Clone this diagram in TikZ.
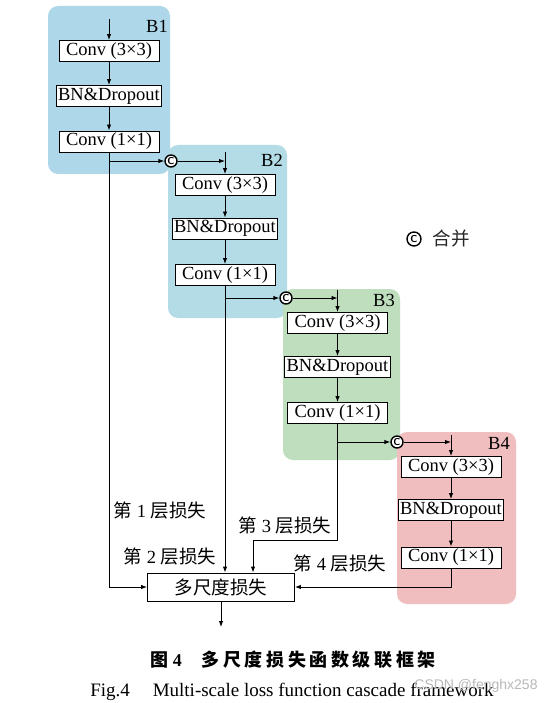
\documentclass[tikz,border=0pt]{standalone}
\usepackage{fontspec}
\setmainfont{Liberation Serif}
\newfontfamily\cjk{Noto Sans CJK SC}
\newfontfamily\cjkcap{Noto Sans CJK SC}[LetterSpace=20]
\newfontfamily\wmfont{Liberation Sans}
\usetikzlibrary{arrows.meta, calc}

\definecolor{panelblue}{RGB}{174,216,234}
\definecolor{panelcyan}{RGB}{180,220,230}
\definecolor{panelgreen}{RGB}{190,222,190}
\definecolor{panelpink}{RGB}{241,190,192}

\newcommand{\lossname}[1]{{\cjk 第}~#1~{\cjk 层损失}}

\begin{document}
\begin{tikzpicture}[x=1pt, y=-1pt, line width=0.9pt, >={Latex[length=6pt,width=4.5pt]},
  txt/.style={font=\fontsize{18.5}{20}\selectfont},
  layer/.style={txt, draw, fill=white, minimum width=100pt, minimum height=21pt, inner sep=2pt},
  panel/.style={rounded corners=10pt},
  merge/.style={circle, draw, line width=1.4pt, fill=white, inner sep=0pt, minimum size=12pt,
    font=\fontsize{10}{10}\sffamily\bfseries}]
  \fill[white] (0,0) rectangle (554,703);
  \useasboundingbox (0,0) rectangle (554,703);

  % coloured panels
  \fill[panelblue, panel] (48,6) rectangle (170,174);
  \fill[panelcyan, panel] (168,145) rectangle (287,318);
  \fill[panelgreen, panel] (283,289) rectangle (400,460);
  \fill[panelpink, panel] (397,432) rectangle (516,604);

  % B1
  \coordinate (in1) at (109,19);
  \node[layer] (c1a) at (109,51) {Conv (3×3)};
  \node[layer] (bn1) at (109,96) {BN\&Dropout};
  \node[layer] (c1b) at (109,141.5) {Conv (1×1)};
  \node[txt] (t1) at (157,26) {B1};
  \draw[->] (in1) -- (c1a);
  \draw[->] (c1a) -- (bn1);
  \draw[->] (bn1) -- (c1b);

  % B2
  \coordinate (in2) at (225,152);
  \node[layer] (c2a) at (225,185) {Conv (3×3)};
  \node[layer] (bn2) at (225,228.5) {BN\&Dropout};
  \node[layer] (c2b) at (225,275) {Conv (1×1)};
  \node[txt] (t2) at (272,160) {B2};
  \draw[->] (in2) -- (c2a);
  \draw[->] (c2a) -- (bn2);
  \draw[->] (bn2) -- (c2b);

  % B3
  \coordinate (in3) at (337.5,290);
  \node[layer] (c3a) at (337.5,323) {Conv (3×3)};
  \node[layer] (bn3) at (337.5,367) {BN\&Dropout};
  \node[layer] (c3b) at (337.5,413) {Conv (1×1)};
  \node[txt] (t3) at (384,300) {B3};
  \draw[->] (in3) -- (c3a);
  \draw[->] (c3a) -- (bn3);
  \draw[->] (bn3) -- (c3b);

  % B4
  \coordinate (in4) at (451,435);
  \node[layer] (c4a) at (451,467) {Conv (3×3)};
  \node[layer] (bn4) at (451,510) {BN\&Dropout};
  \node[layer] (c4b) at (451,557.5) {Conv (1×1)};
  \node[txt] (t4) at (499,443) {B4};
  \draw[->] (in4) -- (c4a);
  \draw[->] (c4a) -- (bn4);
  \draw[->] (bn4) -- (c4b);

  % concatenation
  \node[merge] (m1) at (171,161) {C};
  \node[merge] (m2) at (286,298) {C};
  \node[merge] (m3) at (397,442) {C};
  \draw[->] (c1b.south |- m1) -- (m1);
  \draw[->] (m1) -- (m1 -| in2);
  \draw[->] (c2b.south |- m2) -- (m2);
  \draw[->] (m2) -- (m2 -| in3);
  \draw[->] (c3b.south |- m3) -- (m3);
  \draw[->] (m3) -- (m3 -| in4);

  % losses
  \node[draw, fill=white, minimum width=147pt, minimum height=28pt,
    font=\cjk\fontsize{18.5}{20}\selectfont] (loss) at (221,587) {多尺度损失};
  \coordinate (k3) at (253,540);
  \coordinate (out) at (221,627);
  \draw[->] (c1b) |- (loss);
  \draw[->] (c2b) -- (c2b |- loss.north);
  \draw[->] (c3b) |- (k3) -- (k3 |- loss.north);
  \draw[->] (c4b) |- (loss);
  \draw[->] (loss) -- (out);
  \node[txt] (l1) at (160,511) {\lossname{1}};
  \node[txt] (l2) at (170,557) {\lossname{2}};
  \node[txt] (l3) at (285,526) {\lossname{3}};
  \node[txt] (l4) at (340,564) {\lossname{4}};

  % legend
  \node[merge, minimum size=14pt] (key) at (414,239) {C};
  \node[txt, anchor=west, text=black!85] (keytxt) at (429,239) {\cjk 合并};

  % caption
  \node[font=\fontsize{18}{20}\selectfont\bfseries] (cap) at (293,660)
    {{\cjk 图}~4\hspace{1.1em}{\cjkcap 多尺度损失函数级联框架}};
  \node[font=\fontsize{19}{20}\selectfont] (capen) at (292,692)
    {Fig.4\hspace{1.2em}Multi-scale loss function cascade framework};
  \node[font=\wmfont\fontsize{14}{14}\selectfont, text=gray!55] (wm) at (476,686) {CSDN @fenghx258};
\end{tikzpicture}
\end{document}
